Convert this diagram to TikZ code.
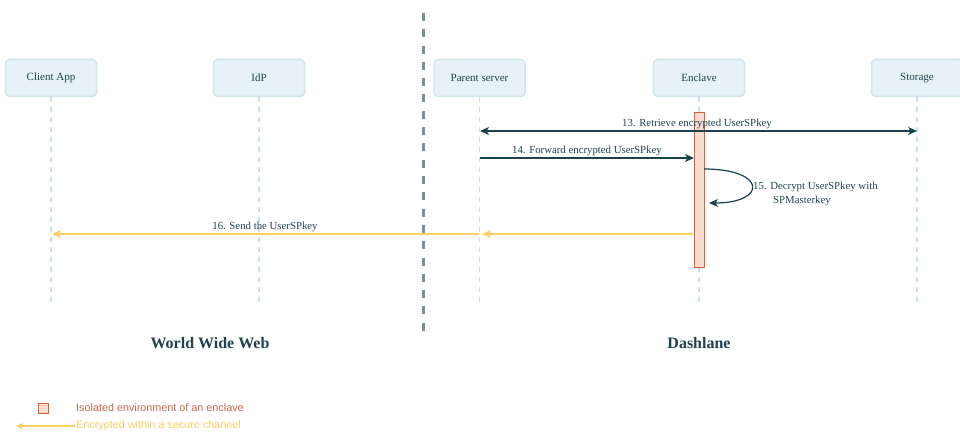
\documentclass[tikz,border=0pt]{standalone}
\usepackage{fontspec}
\setmainfont{Liberation Serif}
\newfontfamily\legendfont{Liberation Sans}
\usetikzlibrary{arrows.meta}
\definecolor{boxfill}{HTML}{E6F2F5}
\definecolor{boxline}{HTML}{D2E6EC}
\definecolor{txt}{HTML}{1F434D}
\definecolor{msgc}{HTML}{1A424C}
\definecolor{life}{HTML}{C9E0E6}
\definecolor{dividerc}{HTML}{7A9097}
\definecolor{actfill}{HTML}{FADBCF}
\definecolor{actline}{HTML}{D9603F}
\definecolor{secure}{HTML}{FCCD63}
\definecolor{legred}{HTML}{C9654B}
\begin{document}
\begin{tikzpicture}[x=1pt,y=-1pt,
  participant/.style={draw=boxline, line width=1.5pt, fill=boxfill, rounded corners=4pt,
    minimum width=91pt, minimum height=37pt, inner sep=0pt,
    font=\fontsize{11}{13}\selectfont, text=txt},
  lifeline/.style={draw=life, line width=1.5pt, dash pattern=on 5pt off 5pt},
  dividerline/.style={draw=dividerc, line width=3pt, dash pattern=on 8pt off 8.3pt},
  activation/.style={draw=actline, fill=actfill, line width=1pt, inner sep=0pt},
  msgline/.style={draw=msgc, line width=1.2pt, -{Stealth[length=9pt,width=8pt,inset=2.5pt]}},
  secureline/.style={draw=secure, line width=1.8pt, -{Stealth[length=9pt,width=8pt,inset=2.5pt]}},
  msglabel/.style={font=\fontsize{10.8}{13.5}\selectfont, text=txt, inner sep=2pt},
  zonelabel/.style={font=\fontsize{16}{18}\selectfont\bfseries, text=txt},
  legendtext/.style={font=\legendfont\fontsize{10.8}{12}\selectfont, anchor=west, inner sep=0pt}
]
\useasboundingbox (0,0) rectangle (960,433);

% divider
\coordinate (divtop) at (423,13);
\coordinate (divbot) at (423,331);
\draw[dividerline] (divtop) -- (divbot);

% participants
\node[participant] (client) at (51,78) {Client App};
\node[participant] (idp) at (259,78) {IdP};
\node[participant] (parent) at (479.5,78) {Parent server};
\node[participant] (enclave) at (699,78) {Enclave};
\node[participant] (storage) at (917,78) {Storage};

% lifelines
\coordinate (clientend) at (51,305);
\coordinate (idpend) at (259,305);
\coordinate (parentend) at (479.5,305);
\coordinate (enclaveend) at (699,305);
\coordinate (storageend) at (917,305);
\draw[lifeline] (client) -- (clientend);
\draw[lifeline] (idp) -- (idpend);
\draw[lifeline] (parent) -- (parentend);
\draw[lifeline] (enclave) -- (enclaveend);
\draw[lifeline] (storage) -- (storageend);

% activation
\node[activation, minimum width=10pt, minimum height=154pt] (act) at (699,190) {};

% message 13
\coordinate (m13a) at (480,131);
\coordinate (m13b) at (917,131);
\draw[msgline, {Stealth[length=9pt,width=8pt,inset=2.5pt]}-{Stealth[length=9pt,width=8pt,inset=2.5pt]}] (m13a) -- (m13b);
\node[msglabel] (l13) at (697,123.5) {13. Retrieve encrypted UserSPkey};

% message 14
\coordinate (m14a) at (480,158);
\coordinate (m14b) at (694,158);
\draw[msgline] (m14a) -- (m14b);
\node[msglabel] (l14) at (587,150.5) {14. Forward encrypted UserSPkey};

% message 15 (self)
\coordinate (m15a) at (704,169);
\coordinate (m15b) at (709,203);
\draw[msgline] (m15a) .. controls (767,169) and (767,203) .. (m15b);
\node[msglabel, align=left, anchor=west] (l15) at (751,194) {15. Decrypt UserSPkey with\\\hspace*{20pt}SPMasterkey};

% message 16
\coordinate (m16a) at (693,234);
\coordinate (m16b) at (482,234);
\coordinate (m16c) at (479,234);
\coordinate (m16d) at (52,234);
\draw[secureline] (m16a) -- (m16b);
\draw[secureline] (m16c) -- (m16d);
\node[msglabel] (l16) at (265,226.5) {16. Send the UserSPkey};

% zone labels
\node[zonelabel] (www) at (210,343.5) {World Wide Web};
\node[zonelabel] (dash) at (699,343.5) {Dashlane};

% legend
\node[activation, minimum width=10pt, minimum height=10pt] (legbox) at (43,408) {};
\node[legendtext, text=legred] (legt1) at (76,407.5) {Isolated environment of an enclave};
\coordinate (legas) at (75,426);
\coordinate (legae) at (16,426);
\draw[secureline, line width=1.3pt, -{Stealth[length=7pt,width=6pt,inset=2pt]}] (legas) -- (legae);
\node[legendtext, text=secure] (legt2) at (76,426) {Encrypted within a secure channel};
\end{tikzpicture}
\end{document}
